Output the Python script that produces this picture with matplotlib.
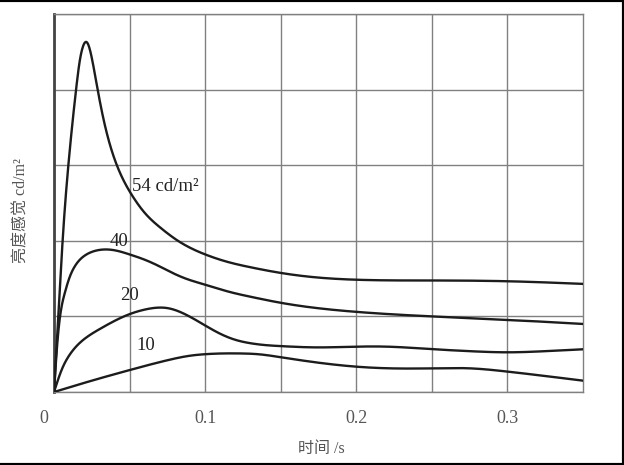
import numpy as np
import matplotlib
matplotlib.use("Agg")
import matplotlib.pyplot as plt
import matplotlib.transforms as mtransforms
from matplotlib.lines import Line2D

# ---- data ----
t54 = [0, 0.003, 0.0057, 0.0095, 0.0146, 0.0168, 0.019, 0.022, 0.0256, 0.0287,
       0.0322, 0.0366, 0.041, 0.046, 0.052, 0.06, 0.07, 0.082, 0.1, 0.115, 0.13,
       0.15, 0.174, 0.2, 0.25, 0.3, 0.35]
v54 = [0, 1.05, 2.0, 3.0, 4.0, 4.35, 4.56, 4.62, 4.36, 4.02,
       3.66, 3.30, 3.03, 2.80, 2.59, 2.37, 2.18, 2.0, 1.82, 1.72, 1.65,
       1.575, 1.515, 1.485, 1.475, 1.465, 1.43]

t40 = [0, 0.002, 0.004, 0.007, 0.01, 0.014, 0.02, 0.026, 0.033, 0.04, 0.05,
       0.06, 0.07, 0.08, 0.09, 0.1, 0.115, 0.13, 0.15, 0.174, 0.2, 0.25, 0.3, 0.35]
v40 = [0, 0.6, 1.0, 1.3, 1.5, 1.67, 1.8, 1.86, 1.885, 1.875, 1.82,
       1.75, 1.66, 1.56, 1.48, 1.42, 1.33, 1.26, 1.18, 1.11, 1.06, 1.0, 0.954, 0.90]

t20 = [0, 0.005, 0.0106, 0.02, 0.03, 0.04, 0.05, 0.06, 0.068, 0.075, 0.0833, 0.1,
       0.11, 0.12, 0.13, 0.14, 0.15, 0.174, 0.2, 0.22, 0.25, 0.275, 0.3, 0.325, 0.35]
v20 = [0, 0.29, 0.50, 0.70, 0.83, 0.94, 1.03, 1.09, 1.115, 1.11, 1.06, 0.88,
       0.77, 0.69, 0.645, 0.62, 0.607, 0.59, 0.60, 0.60, 0.567, 0.54, 0.525, 0.54, 0.565]

t10 = [0, 0.025, 0.05, 0.075, 0.09, 0.1, 0.112, 0.123, 0.135, 0.15, 0.174, 0.2, 0.222,
       0.25, 0.275, 0.3, 0.35]
v10 = [0, 0.15, 0.29, 0.42, 0.48, 0.50, 0.51, 0.51, 0.50, 0.46, 0.39, 0.335, 0.313,
       0.313, 0.313, 0.27, 0.15]

curve_labels = ["54 cd/m\u00b2", "40", "20", "10"]
label_t = [0.0514, 0.0366, 0.0437, 0.0542]
label_v = [2.66, 1.93, 1.217, 0.556]

xtick_vals = [0, 0.1, 0.2, 0.3]
xtick_labels = ["0", "0.1", "0.2", "0.3"]
xlabel = "时间 /s"
ylabel = "亮度感觉 cd/m\u00b2"


def natural_spline(x, y, xs):
    x = np.asarray(x, float)
    y = np.asarray(y, float)
    n = len(x)
    h = np.diff(x)
    A = np.zeros((n, n))
    b = np.zeros(n)
    A[0, 0] = 1.0
    A[-1, -1] = 1.0
    for i in range(1, n - 1):
        A[i, i - 1] = h[i - 1]
        A[i, i] = 2 * (h[i - 1] + h[i])
        A[i, i + 1] = h[i]
        b[i] = 3 * ((y[i + 1] - y[i]) / h[i] - (y[i] - y[i - 1]) / h[i - 1])
    c = np.linalg.solve(A, b)
    bb = (y[1:] - y[:-1]) / h - h * (2 * c[:-1] + c[1:]) / 3
    d = (c[1:] - c[:-1]) / (3 * h)
    idx = np.clip(np.searchsorted(x, xs) - 1, 0, n - 2)
    dx = xs - x[idx]
    return y[idx] + bb[idx] * dx + c[idx] * dx**2 + d[idx] * dx**3


W, H = 624, 465
fig = plt.figure(figsize=(W / 100, H / 100), dpi=100)
ax = fig.add_axes([54 / W, (H - 392) / H, 529 / W, 378 / H])

serif = ["Liberation Serif", "DejaVu Serif"]
mixed = ["Liberation Serif", "Noto Sans CJK SC", "DejaVu Sans"]

for tt, vv in [(t54, v54), (t40, v40), (t20, v20), (t10, v10)]:
    xs = np.linspace(0, 0.35, 1400)
    ax.plot(xs, natural_spline(tt, vv, xs), color="#1c1c1c", lw=1.7,
            solid_capstyle="round", zorder=3)

for lab, lt, lv in zip(curve_labels, label_t, label_v):
    ax.text(lt, lv, lab, family=serif, fontsize=13.5, color="#222222",
            ha="left", va="baseline", zorder=4)

ax.set_xlim(0, 0.35)
ax.set_ylim(0, 5)
ax.set_xticks(xtick_vals)
ax.set_xticklabels(xtick_labels, family=serif, fontsize=13, color="#555555")
ax.set_xticks(np.arange(0.05, 0.35, 0.1), minor=True)
ax.set_yticks(np.arange(0, 6, 1))
ax.set_yticklabels([])
ax.tick_params(which="both", length=0)
ax.tick_params(axis="x", pad=13)
ax.grid(True, which="both", color="#808080", lw=1.0)
ax.set_axisbelow(True)

# shift "0" label to the left like the reference
lab0 = ax.get_xticklabels()[0]
lab0.set_transform(lab0.get_transform() + mtransforms.ScaledTranslation(-10 / 100, 0, fig.dpi_scale_trans))

for side in ["top", "right", "bottom"]:
    ax.spines[side].set_color("#808080")
    ax.spines[side].set_linewidth(1.0)
ax.spines["left"].set_color("#444444")
ax.spines["left"].set_linewidth(2.0)

ax.set_xlabel(xlabel, family=mixed, fontsize=11.5, color="#555555", va="center")
ax.xaxis.set_label_coords((321 - 54) / 529, (392 - 449) / 378)
ax.set_ylabel(ylabel, family=mixed, fontsize=11.5, color="#555555", va="center")
ax.yaxis.set_label_coords((21 - 54) / 529, 0.48)

# black frame around the picture (top, right, bottom)
fig.add_artist(Line2D([0, 1], [1, 1], transform=fig.transFigure, color="black", lw=3))
fig.add_artist(Line2D([1, 1], [0, 1], transform=fig.transFigure, color="black", lw=3))
fig.add_artist(Line2D([0, 1], [0, 0], transform=fig.transFigure, color="black", lw=3))

fig.savefig("out.png", dpi=100)
